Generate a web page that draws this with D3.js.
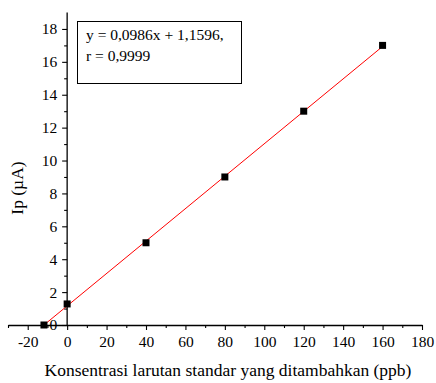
<!DOCTYPE html>
<html>
<head>
<meta charset="utf-8">
<script src="https://cdn.jsdelivr.net/npm/d3@7"></script>
<style>
  body { margin: 0; background: #fff; }
  text { font-family: "Liberation Serif", "Times New Roman", serif; fill: #000; }
</style>
</head>
<body>
<script>
var concs = [-11.76, 0, 40, 80, 120, 160];
var currents = [0, 1.28, 5, 9, 13, 17];
var slope = 0.0986;
var intercept = 1.1596;
var xTicks = [-20, 0, 20, 40, 60, 80, 100, 120, 140, 160, 180];
var yTicks = [0, 2, 4, 6, 8, 10, 12, 14, 16, 18];
var eqLines = ["y = 0,0986x + 1,1596,", "r = 0,9999"];

var width = 436, height = 383;
var x = d3.scaleLinear().domain([-30, 180]).range([8, 422]);
var y = d3.scaleLinear().domain([0, 19]).range([325, 12.5]);

var svg = d3.select("body").append("svg").attr("width", width).attr("height", height);

// minor ticks
var xMinor = d3.range(-30, 181, 10).filter(function(d){ return d % 20 != 0; });
svg.append("g").attr("transform", "translate(0," + y(0) + ")")
    .call(d3.axisBottom(x).tickValues(xMinor).tickSize(3).tickFormat(""))
    .call(function(g){ g.select(".domain").remove(); });
var yMinor = d3.range(1, 19, 2);
svg.append("g").attr("transform", "translate(" + x(0) + ",0)")
    .call(d3.axisLeft(y).tickValues(yMinor).tickSize(3).tickFormat(""))
    .call(function(g){ g.select(".domain").remove(); });

var xAxis = svg.append("g").attr("transform", "translate(0," + y(0) + ")")
    .call(d3.axisBottom(x).tickValues(xTicks).tickSize(5).tickSizeOuter(0).tickPadding(6).tickFormat(function(d){ return String(d); }));
xAxis.selectAll("text").style("font-size", "15.5px").attr("font-family", null);

var yAxis = svg.append("g").attr("transform", "translate(" + x(0) + ",0)")
    .call(d3.axisLeft(y).tickValues(yTicks).tickSize(5).tickSizeOuter(0).tickPadding(5).tickFormat(function(d){ return String(d); }));
yAxis.selectAll("text").style("font-size", "15.5px").attr("font-family", null);
// extend y axis to top
yAxis.select(".domain").attr("d", "M0," + y(19) + "V" + y(0));
svg.selectAll(".domain").attr("stroke-width", 1.3);
svg.selectAll(".tick line").attr("stroke-width", 1.1);

// fit line
var x0 = -intercept / slope;
svg.append("line")
    .attr("x1", x(x0)).attr("y1", y(0))
    .attr("x2", x(160)).attr("y2", y(slope * 160 + intercept))
    .attr("stroke", "#f00").attr("stroke-width", 1);

// points
var pts = concs.map(function(c, i){ return {c: c, v: currents[i]}; });
svg.selectAll("rect.pt").data(pts).enter().append("rect")
    .attr("class", "pt")
    .attr("x", function(d){ return x(d.c) - 3.5; })
    .attr("y", function(d){ return y(d.v) - 3.5; })
    .attr("width", 7).attr("height", 7)
    .attr("fill", "#000");

// equation box
svg.append("rect").attr("x", 77.5).attr("y", 21.5).attr("width", 164).attr("height", 62)
    .attr("fill", "#fff").attr("stroke", "#000").attr("stroke-width", 1);
svg.selectAll("text.eq").data(eqLines).enter().append("text")
    .attr("class", "eq")
    .attr("x", 86).attr("y", function(d, i){ return 40 + i * 21; })
    .style("font-size", "15.5px")
    .text(function(d){ return d; });

// axis titles
svg.append("text").attr("x", 228).attr("y", 376).attr("text-anchor", "middle")
    .style("font-size", "17.5px")
    .text("Konsentrasi larutan standar yang ditambahkan (ppb)");
svg.append("text").attr("transform", "translate(23,188) rotate(-90)").attr("text-anchor", "middle")
    .style("font-size", "17.5px")
    .text("Ip (\u00b5A)");
</script>
</body>
</html>
